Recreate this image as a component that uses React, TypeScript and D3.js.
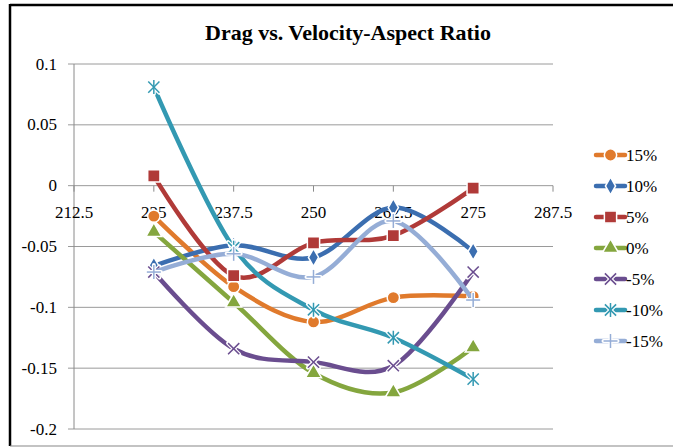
import React, { useEffect, useRef } from "react";
import * as d3 from "d3";

const xValues = [225, 237.5, 250, 262.5, 275];
const seriesNames = ["15%", "10%", "5%", "0%", "-5%", "-10%", "-15%"];
const s15 = [-0.025, -0.083, -0.112, -0.092, -0.091];
const s10 = [-0.066, -0.049, -0.059, -0.018, -0.054];
const s5 = [0.008, -0.074, -0.047, -0.041, -0.002];
const s0 = [-0.038, -0.096, -0.154, -0.17, -0.133];
const sm5 = [-0.071, -0.134, -0.145, -0.148, -0.071];
const sm10 = [0.081, -0.051, -0.102, -0.125, -0.159];
const sm15 = [-0.071, -0.056, -0.075, -0.029, -0.094];
const seriesValues = [s15, s10, s5, s0, sm5, sm10, sm15];
const colors = ["#E07A2C", "#3B6EB0", "#B03A38", "#84A63E", "#6A4D8F", "#3399B2", "#95ADD6"];
const markers = ["circle", "diamond", "square", "triangle", "x", "asterisk", "plus"];
const yTicks = [0.1, 0.05, 0, -0.05, -0.1, -0.15, -0.2];
const yTickLabels = ["0.1", "0.05", "0", "-0.05", "-0.1", "-0.15", "-0.2"];
const xTicks = [212.5, 225, 237.5, 250, 262.5, 275, 287.5];
const xTickLabels = ["212.5", "225", "237.5", "250", "262.5", "275", "287.5"];

const W = 673;
const H = 447;
const plot = { left: 74, right: 553, top: 64, bottom: 429 };
const font = "Liberation Serif, Tinos, Times New Roman, DejaVu Serif, serif";

function drawMarker(
  g: d3.Selection<SVGGElement, unknown, null, undefined>,
  kind: string,
  x: number,
  y: number,
  color: string
) {
  const m = g.append("g").attr("transform", `translate(${x},${y})`);
  if (kind === "circle" || kind === "diamond" || kind === "square" || kind === "triangle") {
    const type =
      kind === "circle"
        ? d3.symbolCircle
        : kind === "diamond"
        ? d3.symbolDiamond
        : kind === "square"
        ? d3.symbolSquare
        : d3.symbolTriangle;
    const size = kind === "circle" ? 120 : kind === "square" ? 150 : kind === "diamond" ? 90 : 110;
    m.append("path")
      .attr("d", d3.symbol().type(type).size(size)()!)
      .attr("fill", color)
      .attr("stroke", "#fff")
      .attr("stroke-width", 1.5);
    return;
  }
  const r = 7;
  const segs: [number, number, number, number][] = [];
  if (kind === "x" || kind === "asterisk") {
    segs.push([-r * 0.8, -r * 0.8, r * 0.8, r * 0.8], [-r * 0.8, r * 0.8, r * 0.8, -r * 0.8]);
  }
  if (kind === "plus" || kind === "asterisk") {
    segs.push([0, -r, 0, r]);
    if (kind === "plus") segs.push([-r, 0, r, 0]);
  }
  segs.forEach((s) => {
    m.append("line")
      .attr("x1", s[0]).attr("y1", s[1]).attr("x2", s[2]).attr("y2", s[3])
      .attr("stroke", "#fff").attr("stroke-width", 4).attr("stroke-linecap", "round");
  });
  segs.forEach((s) => {
    m.append("line")
      .attr("x1", s[0]).attr("y1", s[1]).attr("x2", s[2]).attr("y2", s[3])
      .attr("stroke", color).attr("stroke-width", 1.5);
  });
}

const App = () => {
  const ref = useRef<SVGSVGElement>(null);
  useEffect(() => {
    const svg = d3.select(ref.current!);
    svg.selectAll("*").remove();

    const x = d3.scaleLinear().domain([212.5, 287.5]).range([plot.left, plot.right]);
    const y = d3.scaleLinear().domain([-0.2, 0.1]).range([plot.bottom, plot.top]);

    // frame
    svg.append("line").attr("x1", 10).attr("y1", 5).attr("x2", W).attr("y2", 5)
      .attr("stroke", "#000").attr("stroke-width", 2.5);
    svg.append("line").attr("x1", 10).attr("y1", 4).attr("x2", 10).attr("y2", 446)
      .attr("stroke", "#000").attr("stroke-width", 2.5);
    svg.append("line").attr("x1", 10).attr("y1", 446).attr("x2", W).attr("y2", 446)
      .attr("stroke", "#888").attr("stroke-width", 1.2);

    svg.append("text")
      .attr("x", 348).attr("y", 40)
      .attr("text-anchor", "middle")
      .style("font-family", font).attr("font-weight", "bold").attr("font-size", 22)
      .text("Drag vs. Velocity-Aspect Ratio");

    // gridlines + y ticks
    yTicks.forEach((t, i) => {
      svg.append("line")
        .attr("x1", plot.left - 6).attr("x2", plot.right)
        .attr("y1", y(t)).attr("y2", y(t))
        .attr("stroke", "#9a9a9a").attr("stroke-width", 1);
      svg.append("text")
        .attr("x", 57).attr("y", y(t) + 5.5)
        .attr("text-anchor", "end")
        .style("font-family", font).attr("font-size", 17)
        .text(yTickLabels[i]);
    });
    svg.append("line")
      .attr("x1", plot.left).attr("x2", plot.left)
      .attr("y1", plot.top).attr("y2", plot.bottom)
      .attr("stroke", "#8a8a8a").attr("stroke-width", 1);

    // x axis at zero
    xTicks.forEach((t, i) => {
      svg.append("line")
        .attr("x1", x(t)).attr("x2", x(t))
        .attr("y1", y(0)).attr("y2", y(0) + 6)
        .attr("stroke", "#8a8a8a").attr("stroke-width", 1);
      svg.append("text")
        .attr("x", x(t)).attr("y", y(0) + 32)
        .attr("text-anchor", "middle")
        .style("font-family", font).attr("font-size", 17)
        .text(xTickLabels[i]);
    });

    const line = d3
      .line<number>()
      .x((_, i) => x(xValues[i]))
      .y((d) => y(d))
      .curve(d3.curveCatmullRom.alpha(0));

    const g = svg.append("g");
    seriesValues.forEach((vals, si) => {
      g.append("path")
        .attr("d", line(vals)!)
        .attr("fill", "none")
        .attr("stroke", colors[si])
        .attr("stroke-width", 4.5)
        .attr("stroke-linejoin", "round");
      vals.forEach((v, i) => drawMarker(g, markers[si], x(xValues[i]), y(v), colors[si]));
    });

    // legend
    const lg = svg.append("g");
    seriesNames.forEach((name, si) => {
      const ly = 155 + si * 31;
      lg.append("line")
        .attr("x1", 596).attr("x2", 625).attr("y1", ly).attr("y2", ly)
        .attr("stroke", colors[si]).attr("stroke-width", 4.5).attr("stroke-linecap", "round");
      drawMarker(lg, markers[si], 610.5, ly, colors[si]);
      lg.append("text")
        .attr("x", 626).attr("y", ly + 6)
        .style("font-family", font).attr("font-size", 17)
        .text(name);
    });
  }, []);
  return (
    <svg
      ref={ref}
      width={W}
      height={H}
      style={{ position: "absolute", left: 0, top: 0, background: "#fff" }}
    ></svg>
  );
};

export default App;
